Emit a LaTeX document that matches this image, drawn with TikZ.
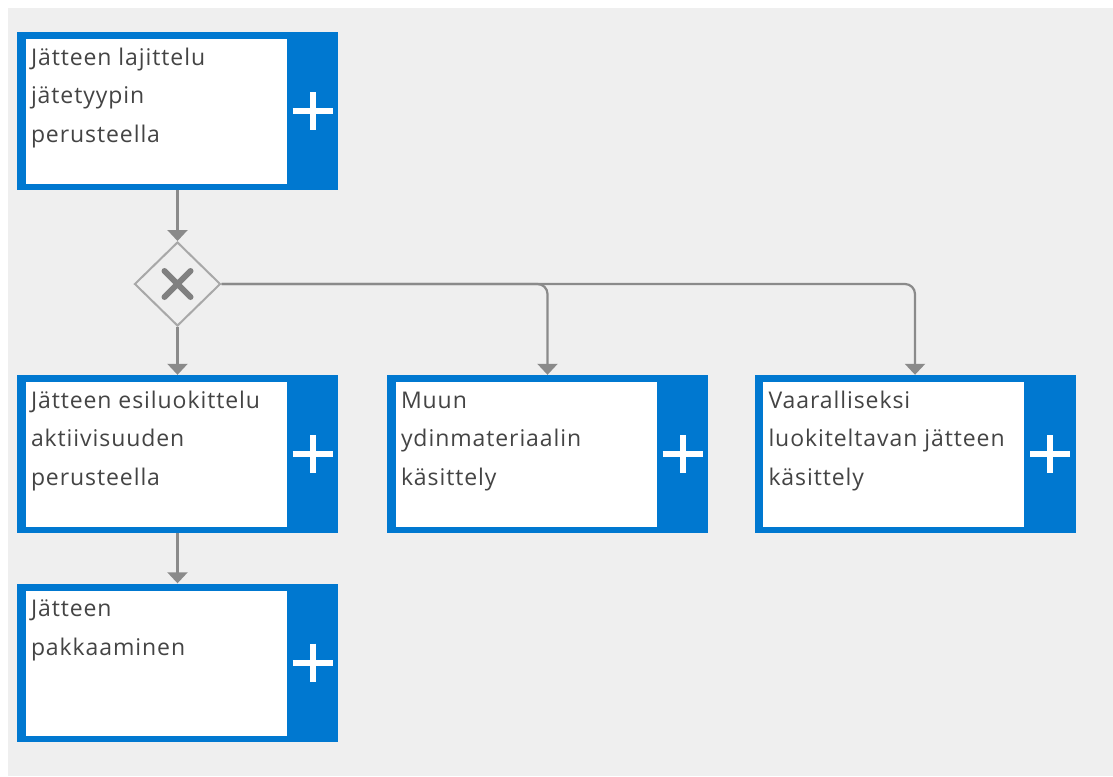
\documentclass[tikz,border=0pt]{standalone}
\usepackage{fontspec}
\setmainfont{Open Sans}
\newfontfamily\tasklabelfont[LetterSpace=4]{Open Sans}
\usetikzlibrary{shapes.geometric,arrows.meta}

\definecolor{taskblue}{HTML}{0078D0}
\definecolor{canvas}{HTML}{EFEFEF}
\definecolor{flowgray}{HTML}{8A8A8A}
\definecolor{gatewayline}{HTML}{A8A8A8}
\definecolor{gatewaymark}{HTML}{808080}
\definecolor{labelgray}{HTML}{444444}

\tikzset{
  % collapsed sub-process: blue frame, white text panel, plus marker on the right
  task/.style={rectangle, draw=none, fill=taskblue, inner sep=0pt,
    minimum width=321pt, minimum height=158pt,
    path picture={
      \fill[white] ([xshift=8.5pt,yshift=6pt]path picture bounding box.south west)
        rectangle ([xshift=-51.5pt,yshift=-7pt]path picture bounding box.north east);
      \draw[white, line width=6pt]
        ([xshift=-45.5pt]path picture bounding box.east) -- ([xshift=-5.5pt]path picture bounding box.east)
        ([xshift=-25.5pt,yshift=19pt]path picture bounding box.east) -- ([xshift=-25.5pt,yshift=-19pt]path picture bounding box.east);
    }},
  % the base anchor of a multi-line label sits on its last line
  tasklabel/.style={anchor=base west, inner sep=0pt, align=left,
    font=\tasklabelfont\fontsize{23pt}{38.5pt}\selectfont, text=labelgray},
  % exclusive gateway
  gateway/.style={diamond, draw=gatewayline, line width=2pt, fill=canvas,
    minimum width=86pt, minimum height=84pt, inner sep=0pt,
    path picture={
      \draw[gatewaymark, line width=6pt, line cap=round]
        ([xshift=-13pt,yshift=13pt]path picture bounding box.center) -- ([xshift=13pt,yshift=-13pt]path picture bounding box.center)
        ([xshift=-13pt,yshift=-13pt]path picture bounding box.center) -- ([xshift=13pt,yshift=13pt]path picture bounding box.center);
    }},
  flow/.style={draw=flowgray, line width=2.2pt, -{Triangle[width=20pt,length=11pt]}},
}

% #1 name, #2 centre, #3 number of label lines, #4 label
\newcommand\tasknode[4]{%
  \node[task] (#1) at (#2) {};
  \node[tasklabel] (#1-label) at ([xshift=14pt,yshift={-33.5pt-38.5pt*(#3-1)}]#1.north west) {#4};
}

\begin{document}
\begin{tikzpicture}[x=1pt, y=-1pt]
  % page and canvas
  \useasboundingbox (0,0) rectangle (1113,776);
  \fill[white] (0,0) rectangle (1113,776);
  \fill[canvas] (8,8) rectangle (1113,776);

  \tasknode{sort}{177.5,111}{3}{Jätteen lajittelu\\jätetyypin\\perusteella}
  \node[gateway] (gw) at (177.5,284) {};
  \tasknode{presort}{177.5,454}{3}{Jätteen esiluokittelu\\aktiivisuuden\\perusteella}
  \tasknode{other}{547.5,454}{3}{Muun\\ydinmateriaalin\\käsittely}
  \tasknode{hazard}{915,454}{3}{Vaaralliseksi\\luokiteltavan jätteen\\käsittely}
  \tasknode{pack}{177.5,662.5}{2}{Jätteen\\pakkaaminen}

  % sequence flows
  \draw[flow] (sort.south) -- (gw.north);
  \draw[flow] (gw.south) -- (presort.north);
  \draw[flow, rounded corners=10pt] (gw.east) -| (other.north);
  \draw[flow, rounded corners=10pt] (gw.east) -| (hazard.north);
  \draw[flow] (presort.south) -- (pack.north);
\end{tikzpicture}
\end{document}
